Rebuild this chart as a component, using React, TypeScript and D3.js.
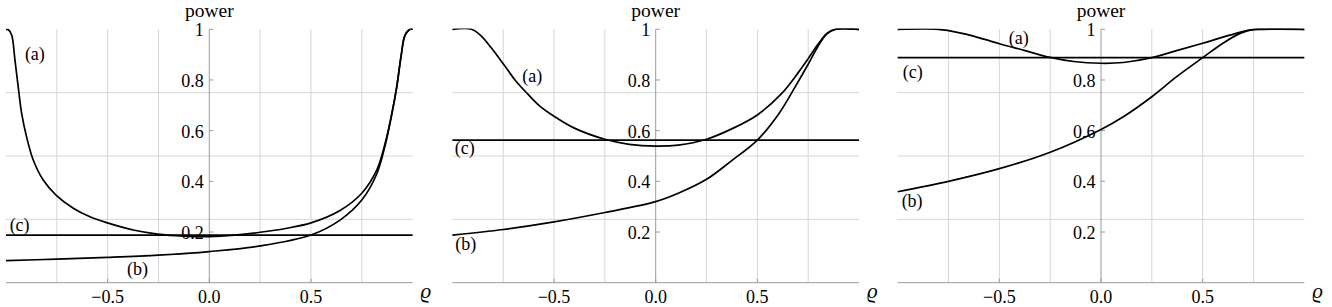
import React from "react";
import * as d3 from "d3";

// ---------- data (ρ, power) ----------
const p1CurveA: [number, number][] = [
  [-1.0, 1.0], [-0.988, 0.998], [-0.972, 0.977], [-0.956, 0.879], [-0.94, 0.773],
  [-0.923, 0.668], [-0.899, 0.576], [-0.866, 0.484], [-0.817, 0.405],
  [-0.754, 0.346], [-0.669, 0.294], [-0.587, 0.26], [-0.505, 0.237], [-0.374, 0.208],
  [-0.254, 0.192], [-0.128, 0.184], [0, 0.182], [0.125, 0.188], [0.25, 0.199],
  [0.375, 0.214], [0.5, 0.236], [0.643, 0.285], [0.75, 0.353], [0.824, 0.445],
  [0.865, 0.55], [0.898, 0.668], [0.922, 0.773], [0.943, 0.892], [0.963, 0.977],
  [0.988, 1.0], [1.0, 1.0],
];
const p1CurveB: [number, number][] = [
  [-1.0, 0.087], [-0.75, 0.093], [-0.5, 0.1], [-0.25, 0.109], [0, 0.123],
  [0.25, 0.145], [0.5, 0.188], [0.643, 0.247], [0.75, 0.326], [0.824, 0.43],
  [0.865, 0.542], [0.898, 0.666], [0.922, 0.773], [0.943, 0.892], [0.963, 0.977],
  [0.988, 1.0], [1.0, 1.0],
];
const p2CurveA: [number, number][] = [
  [-1.0, 1.0], [-0.906, 1.0], [-0.86, 0.975], [-0.81, 0.928], [-0.75, 0.864],
  [-0.69, 0.798], [-0.63, 0.745], [-0.57, 0.697], [-0.5, 0.657], [-0.4, 0.61],
  [-0.25, 0.566], [-0.13, 0.546], [0, 0.539], [0.111, 0.543], [0.25, 0.566],
  [0.374, 0.607], [0.5, 0.662], [0.62, 0.747], [0.702, 0.83], [0.75, 0.884],
  [0.8, 0.943], [0.842, 0.984], [0.883, 1.0], [1.0, 1.0],
];
const p2CurveB: [number, number][] = [
  [-1.0, 0.188], [-0.75, 0.21], [-0.5, 0.24], [-0.25, 0.277], [0, 0.32],
  [0.111, 0.353], [0.25, 0.408], [0.374, 0.482], [0.5, 0.563], [0.604, 0.665],
  [0.686, 0.773], [0.75, 0.862], [0.8, 0.935], [0.842, 0.982], [0.883, 1.0], [1.0, 1.0],
];
const p3CurveA: [number, number][] = [
  [-1.0, 1.0], [-0.8, 1.0], [-0.75, 0.995], [-0.66, 0.98], [-0.571, 0.96],
  [-0.5, 0.943], [-0.374, 0.916], [-0.25, 0.889], [-0.135, 0.873], [0, 0.866],
  [0.11, 0.869], [0.25, 0.888], [0.372, 0.916], [0.5, 0.945], [0.634, 0.977],
  [0.73, 0.997], [0.8, 1.0], [1.0, 1.0],
];
const p3CurveB: [number, number][] = [
  [-1.0, 0.359], [-0.75, 0.4], [-0.5, 0.45], [-0.25, 0.515], [0, 0.605],
  [0.11, 0.655], [0.25, 0.734], [0.372, 0.813], [0.5, 0.888], [0.6, 0.945],
  [0.684, 0.984], [0.75, 1.0], [1.0, 1.0],
];
const cLevels = [0.188, 0.563, 0.888];

const yTicks = [0.2, 0.4, 0.6, 0.8, 1];
const yTickLabels = ["0.2", "0.4", "0.6", "0.8", "1"];
const xTicks = [-0.5, 0, 0.5];
const xTickLabels = ["\u22120.5", "0.0", "0.5"];
const vGrid = [-0.75, -0.5, -0.25, 0.25, 0.5, 0.75];
const hGrid = [0.25, 0.5, 0.75];
const curveNames = ["(a)", "(b)", "(c)"];

// ---------- layout ----------
const W = 1332;
const H = 307;
const origins = [209.3, 655.7, 1101];
const HALF = 203.3;
const Y_TOP = 29.3;
const Y_BOT = 282.7;
// label anchors in data coords per panel: [a, b, c]
const labelAnchors: [number, number][][] = [
  [[-0.858, 0.902], [-0.353, 0.055], [-0.933, 0.227]],
  [[-0.607, 0.815], [-0.934, 0.154], [-0.939, 0.531]],
  [[-0.404, 0.967], [-0.929, 0.323], [-0.926, 0.831]],
];

const panels = [
  { a: p1CurveA, b: p1CurveB, c: cLevels[0] },
  { a: p2CurveA, b: p2CurveB, c: cLevels[1] },
  { a: p3CurveA, b: p3CurveB, c: cLevels[2] },
];

const FONT = "Liberation Serif, Times New Roman, serif";
const GRID = "#d6d6d6";
const AXIS = "#9a9a9a";

function Panel({ idx }: { idx: number }) {
  const x0 = origins[idx];
  const x = d3.scaleLinear().domain([-1, 1]).range([x0 - HALF, x0 + HALF]);
  const y = d3.scaleLinear().domain([0, 1]).range([Y_BOT, Y_TOP]);
  const line = d3
    .line<[number, number]>()
    .x((d) => x(d[0]))
    .y((d) => y(d[1]))
    .curve(d3.curveCatmullRom.alpha(0.5));
  const p = panels[idx];
  const cLine: [number, number][] = [[-1, p.c], [1, p.c]];
  const clipId = "clip" + idx;
  return (
    <g>
      <defs>
        <clipPath id={clipId}>
          <rect x={x(-1) - 2} y={y(1) - 0.85} width={x(1) - x(-1) + 4} height={y(0) - y(1) + 2} />
        </clipPath>
      </defs>
      {vGrid.map((v) => (
        <line key={"v" + v} x1={x(v)} x2={x(v)} y1={y(0)} y2={y(1)} stroke={GRID} strokeWidth={1} />
      ))}
      {hGrid.map((v) => (
        <line key={"h" + v} x1={x(-1)} x2={x(1)} y1={y(v)} y2={y(v)} stroke={GRID} strokeWidth={1} />
      ))}
      {/* axes */}
      <line x1={x(-1)} x2={x(1)} y1={y(0)} y2={y(0)} stroke={AXIS} strokeWidth={1} />
      <line x1={x(0)} x2={x(0)} y1={y(0)} y2={y(1)} stroke={AXIS} strokeWidth={1} />
      {yTicks.map((t, i) => (
        <g key={"yt" + t}>
          <line x1={x(0)} x2={x(0) + 4} y1={y(t)} y2={y(t)} stroke={AXIS} strokeWidth={1} />
          <text x={x(0) - 5.5} y={y(t)} dy="0.38em" textAnchor="end" fontSize={18} fontFamily={FONT}>
            {yTickLabels[i]}
          </text>
        </g>
      ))}
      {xTicks.map((t, i) => (
        <g key={"xt" + t}>
          <line x1={x(t)} x2={x(t)} y1={y(0)} y2={y(0) - 4} stroke={AXIS} strokeWidth={1} />
          <text x={x(t)} y={303.3} textAnchor="middle" fontSize={18} fontFamily={FONT}>
            {xTickLabels[i]}
          </text>
        </g>
      ))}
      <text x={x(0)} y={17} textAnchor="middle" fontSize={19.5} fontFamily={FONT}>
        power
      </text>
      <text x={x(1) + 8} y={298} fontSize={21} fontStyle="italic" fontFamily={FONT}>
        ϱ
      </text>
      {/* curves */}
      <g clipPath={`url(#${clipId})`}>
        <path d={line(p.a) || ""} fill="none" stroke="#000" strokeWidth={1.7} />
        <path d={line(p.b) || ""} fill="none" stroke="#000" strokeWidth={1.7} />
        <path d={line(cLine) || ""} fill="none" stroke="#000" strokeWidth={1.7} />
      </g>
      {curveNames.map((n, i) => (
        <text
          key={n}
          x={x(labelAnchors[idx][i][0])}
          y={y(labelAnchors[idx][i][1])}
          dy="0.35em"
          textAnchor="middle"
          fontSize={18}
          fontFamily={FONT}
        >
          {n}
        </text>
      ))}
    </g>
  );
}

export default function App() {
  return (
    <svg
      width={W}
      height={H}
      viewBox={`0 0 ${W} ${H}`}
      style={{ position: "absolute", left: 0, top: 0, background: "#fff" }}
    >
      <rect width={W} height={H} fill="#fff" />
      {[0, 1, 2].map((i) => (
        <Panel key={i} idx={i} />
      ))}
    </svg>
  );
}
